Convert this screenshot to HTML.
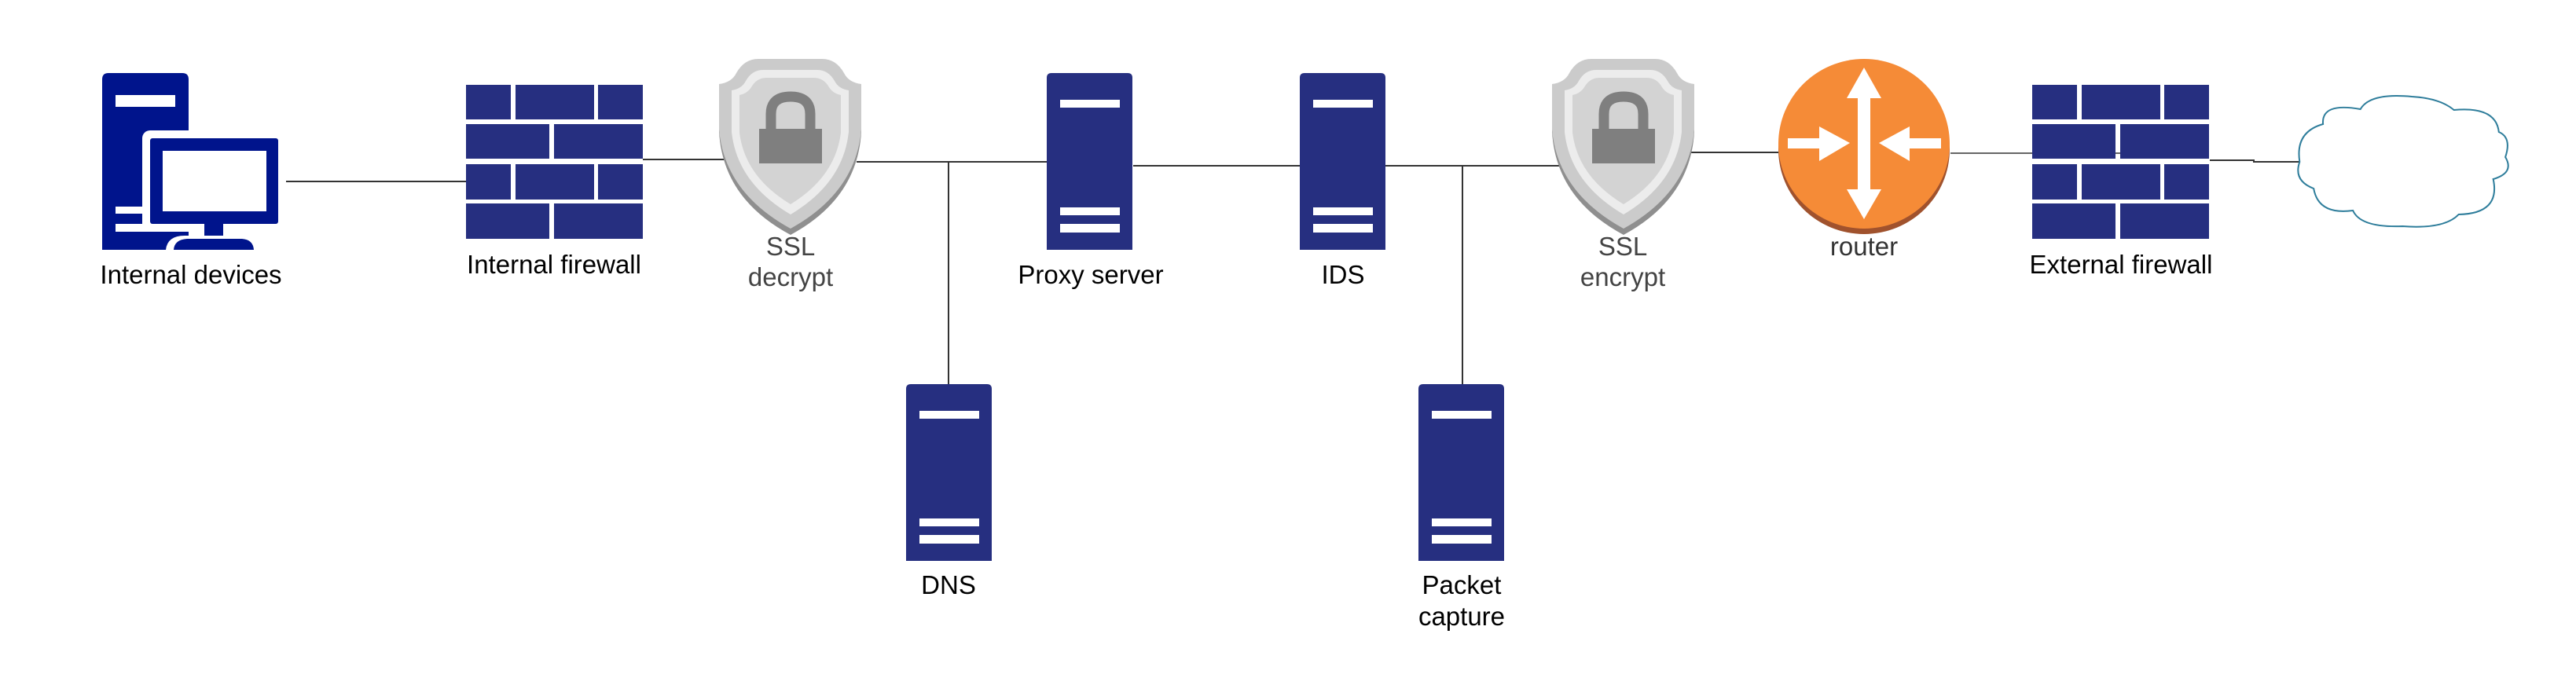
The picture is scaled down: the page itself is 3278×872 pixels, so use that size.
<!DOCTYPE html>
<html><head><meta charset="utf-8"><style>
html,body{margin:0;padding:0;background:#fff;}
svg{display:block;}
text{font-family:"Liberation Sans",sans-serif;font-size:33px;text-anchor:middle;}
</style></head><body>
<svg width="3278" height="872" viewBox="0 0 3278 872" xmlns="http://www.w3.org/2000/svg">
<defs>
<g id="fw">
<rect x="0" y="0" width="57" height="44" fill="#262f80"/>
<rect x="63" y="0" width="100" height="44" fill="#262f80"/>
<rect x="168" y="0" width="57" height="44" fill="#262f80"/>
<rect x="0" y="50" width="106" height="44" fill="#262f80"/>
<rect x="112" y="50" width="113" height="44" fill="#262f80"/>
<rect x="0" y="101" width="57" height="45" fill="#262f80"/>
<rect x="63" y="101" width="100" height="45" fill="#262f80"/>
<rect x="168" y="101" width="57" height="45" fill="#262f80"/>
<rect x="0" y="151" width="106" height="45" fill="#262f80"/>
<rect x="112" y="151" width="113" height="45" fill="#262f80"/>
</g>
<g id="srv">
<path d="M0,6 Q0,0 6,0 L103,0 Q109,0 109,6 L109,225 L0,225 Z" fill="#262f80"/>
<rect x="17" y="34" width="76" height="10" fill="#fff"/>
<rect x="17" y="171" width="76" height="10" fill="#fff"/>
<rect x="17" y="192" width="76" height="11" fill="#fff"/>
</g>
<g id="shield">
<path d="M22,22 Q32,4 50,4 L131,4 Q149,4 159,22 Q165,34 181,36 L181,95 Q176,180 91,226 Q5,180 0,95 L0,36 Q16,34 22,22 Z" fill="#8f8f8f"/>
<path d="M22,20 Q32,2 50,2 L131,2 Q149,2 159,20 Q165,32 181,34 L181,92 Q174,172 91,218 Q7,172 0,92 L0,34 Q16,32 22,20 Z" fill="#cbcbcb"/>
<path d="M34,30 Q42,16 56,16 L125,16 Q139,16 147,30 Q152,40 165,42 L165,95 Q158,160 91,200 Q23,160 16,95 L16,42 Q29,40 34,30 Z" fill="#ececec"/>
<path d="M41,38 Q48,26 60,26 L121,26 Q133,26 140,38 Q145,46 155,48 L155,96 Q148,152 91,187 Q33,152 26,96 L26,48 Q36,46 41,38 Z" fill="#d3d3d3"/>
<path d="M66,92 L66,72 Q66,50 91,50 Q116,50 116,72 L116,92" fill="none" stroke="#7f7f7f" stroke-width="13"/>
<rect x="51" y="91" width="80" height="44" fill="#7f7f7f"/>
</g>
</defs>

<g stroke="#333" stroke-width="2" fill="none">
<line x1="354" y1="231" x2="593" y2="231"/>
<line x1="818" y1="203" x2="926" y2="203"/>
<line x1="1090" y1="206" x2="1332" y2="206"/>
<line x1="1207" y1="206" x2="1207" y2="489"/>
<line x1="1442" y1="211" x2="1654" y2="211"/>
<line x1="1763" y1="211" x2="1987" y2="211"/>
<line x1="1861" y1="211" x2="1861" y2="489"/>
<line x1="2150" y1="194" x2="2263" y2="194"/>
<line x1="2482" y1="195" x2="2700" y2="195" stroke-width="1.5"/>
<polyline points="2812,204 2868,204 2868,206 2926,206"/>
</g>

<path d="M130,101 Q130,93 138,93 L232,93 Q240,93 240,101 L240,318 L130,318 Z" fill="#00148c"/>
<rect x="147" y="121" width="76" height="15" fill="#fff"/>
<rect x="147" y="263" width="50" height="9" fill="#fff"/>
<rect x="147" y="285" width="50" height="10" fill="#fff"/>
<rect x="181" y="166" width="183" height="129" rx="10" fill="#fff"/>
<rect x="191" y="176" width="163" height="109" rx="3" fill="#00148c"/>
<rect x="207" y="192" width="132" height="77" fill="#fff"/>
<rect x="260" y="285" width="24" height="20" fill="#00148c"/>
<path d="M211,318 Q213,300 235,300 L310,300 Q326,300 328,318 Z" fill="#fff"/>
<path d="M221,318 Q222,305 238,304 L308,304 Q322,305 323,318 Z" fill="#00148c"/>
<text x="243" y="361">Internal devices</text>

<use href="#fw" x="593" y="108"/>
<text x="705" y="348">Internal firewall</text>

<use href="#shield" x="915" y="73"/>
<text x="1006" y="325" fill="#444">SSL</text>
<text x="1006" y="364" fill="#444">decrypt</text>

<use href="#srv" x="1332" y="93"/>
<text x="1388" y="361">Proxy server</text>

<use href="#srv" x="1654" y="93"/>
<text x="1709" y="361">IDS</text>

<use href="#srv" x="1153" y="489"/>
<text x="1207" y="756">DNS</text>

<use href="#srv" x="1805" y="489"/>
<text x="1860" y="756">Packet</text>
<text x="1860" y="796">capture</text>

<use href="#shield" x="1975" y="73"/>
<text x="2065" y="325" fill="#444">SSL</text>
<text x="2065" y="364" fill="#444">encrypt</text>

<ellipse cx="2372" cy="190" rx="109" ry="108" fill="#a0522d"/>
<ellipse cx="2372" cy="183" rx="109" ry="108" fill="#f58b37"/>
<g fill="#fff">
<polygon points="2372,86 2394,125 2380,125 2380,241 2394,241 2372,279 2350,241 2364,241 2364,125 2350,125"/>
<polygon points="2275,176 2315,176 2315,161 2354,182 2315,205 2315,189 2275,189"/>
<polygon points="2470,176 2430,176 2430,161 2391,182 2430,205 2430,189 2470,189"/>
</g>
<text x="2372" y="325" fill="#333">router</text>

<use href="#fw" x="2586" y="108"/>
<text x="2699" y="348">External firewall</text>

<g transform="translate(2918,0) scale(1.19,1) translate(-2928,0)">
<path d="M2960,158 Q2958,130 3000,139 Q3010,118 3055,123 Q3085,125 3100,140 Q3145,135 3148,168 Q3162,175 3155,200 Q3165,220 3142,228 Q3150,272 3105,273 Q3090,292 3045,288 Q3000,290 2992,268 Q2955,274 2950,240 Q2928,230 2935,206 Q2930,168 2960,158 Z" fill="#fff" stroke="#2e7d9b" stroke-width="2" vector-effect="non-scaling-stroke"/>
</g>
</svg>
</body></html>
